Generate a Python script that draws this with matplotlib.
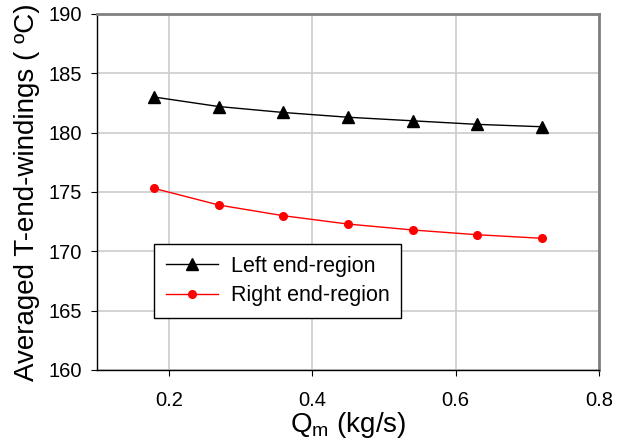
import matplotlib
matplotlib.use("Agg")
import matplotlib.pyplot as plt

plt.rcParams['font.family'] = ['Liberation Sans', 'DejaVu Sans']

q_m = [0.18, 0.27, 0.36, 0.45, 0.54, 0.63, 0.72]
t_left = [183.0, 182.2, 181.7, 181.3, 181.0, 180.7, 180.5]
t_right = [175.3, 173.9, 173.0, 172.3, 171.8, 171.4, 171.1]

fig = plt.figure(figsize=(6.21, 4.46), dpi=100)
ax = fig.add_axes([97/621, 1-370/446, 502/621, 356/446])

ax.plot(q_m, t_left, color="black", lw=1, marker="^", ms=8, label="Left end-region")
ax.plot(q_m, t_right, color="red", lw=1, marker="o", ms=5.5, label="Right end-region")

ax.set_xlim(0.1, 0.8)
ax.set_ylim(160, 190)
ax.set_xticks([0.2, 0.4, 0.6, 0.8])
ax.set_yticks(range(160, 191, 5))
ax.grid(True, color="#d0d0d0", lw=1.3)
ax.set_axisbelow(True)

for side in ("top", "right"):
    ax.spines[side].set_color("#808080")
    ax.spines[side].set_linewidth(2)
for side in ("left", "bottom"):
    ax.spines[side].set_color("black")
    ax.spines[side].set_linewidth(1)

ax.tick_params(labelsize=14.5, length=4, direction="out")
ax.tick_params(axis="y", pad=7)
ax.tick_params(axis="x", pad=11)
ax.set_xlabel("Q$_\\mathregular{m}$ (kg/s)", fontsize=20, labelpad=0)
ax.set_ylabel("Averaged T-end-windings ( \u00baC)", fontsize=20, labelpad=6)

leg = ax.legend(loc="lower left", bbox_to_anchor=(0.114, 0.146), fontsize=15.5,
                fancybox=False, framealpha=1, edgecolor="black",
                borderaxespad=0, handlelength=2.4, handletextpad=0.6,
                borderpad=0.55, labelspacing=0.4)
leg.get_frame().set_linewidth(1)

fig.savefig("out.png", dpi=100)
